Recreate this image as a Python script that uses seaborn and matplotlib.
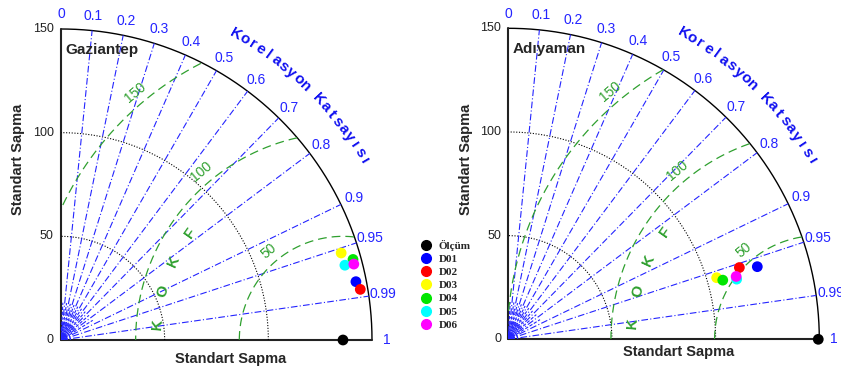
import numpy as np
import pandas as pd
import matplotlib
matplotlib.use('Agg')
import matplotlib.pyplot as plt
import seaborn as sns
from matplotlib.lines import Line2D

# values
stations = ['Gaziantep', 'Adıyaman']
ref_std = [136.0, 149.5]
models = ['D01', 'D02', 'D03', 'D04', 'D05', 'D06']
model_colors = ['#0000ff', '#ff0000', '#ffff00', '#00e600', '#00ffff', '#ff00ff']

gaz_std = [145.0, 146.4, 141.5, 146.1, 141.6, 145.9]
gaz_corr = [0.981, 0.986, 0.955, 0.964, 0.967, 0.968]
adi_std = [125.1, 116.7, 104.8, 107.3, 113.9, 114.0]
adi_corr = [0.960, 0.955, 0.959, 0.964, 0.967, 0.964]

corr_ticks = [0, 0.1, 0.2, 0.3, 0.4, 0.5, 0.6, 0.7, 0.8, 0.9, 0.95, 0.99, 1]
std_ticks = [0, 50, 100, 150]
rms_levels = [50, 100, 150]
std_max = 150

sns.set_style('white')
plt.rcParams['font.family'] = ['Liberation Sans', 'DejaVu Sans']

BLUE = '#2424ff'
GREEN = '#2fa02f'


def draw_taylor(ax, name, ref, std, corr, xlab_y):
    ax.set_xlim(0, std_max)
    ax.set_ylim(0, std_max)
    ax.set_aspect('equal')
    ax.axis('off')

    th = np.linspace(0, np.pi / 2, 300)
    # outer arc and axes
    ax.plot(std_max * np.cos(th), std_max * np.sin(th), color='black', lw=1.0, clip_on=False)
    ax.plot([0, 0], [0, std_max], color='#222222', lw=1.5, clip_on=False)
    ax.plot([0, std_max], [0, 0], color='#222222', lw=1.5, clip_on=False)

    # std circles (dotted)
    for s in std_ticks[1:-1]:
        ax.plot(s * np.cos(th), s * np.sin(th), color='black', lw=0.8, ls=(0, (1, 1.5)))
    for s in std_ticks:
        ax.text(-3.5, s, str(s), ha='right', va='center', fontsize=9, color='#222222')

    # correlation lines
    for c in corr_ticks:
        a = np.arccos(c)
        if 0 < c < 1:
            ax.plot([0, std_max * np.cos(a)], [0, std_max * np.sin(a)], color=BLUE,
                    lw=0.8, dashes=(6, 2, 1, 2))
        ax.text(157 * np.cos(a), 157 * np.sin(a), f'{c:g}', ha='center', va='center',
                fontsize=10, color=BLUE, clip_on=False)
    # short minor lines near origin
    for c in np.arange(0.05, 0.9, 0.1):
        a = np.arccos(c)
        ax.plot([0, 18 * np.cos(a)], [0, 18 * np.sin(a)], color=BLUE, lw=0.8, dashes=(3, 1.5))
    for r in [1.5, 3, 4.5]:
        ax.plot(r * np.cos(th), r * np.sin(th), color=BLUE, lw=0.9)

    # RMS difference circles around the reference
    phi = np.linspace(0, np.pi, 600)
    for r in rms_levels:
        x = ref + r * np.cos(phi)
        y = r * np.sin(phi)
        mask = (x ** 2 + y ** 2 > std_max ** 2) | (x < 0)
        x[mask] = np.nan
        y[mask] = np.nan
        ax.plot(x, y, color=GREEN, lw=0.9, dashes=(7, 4))
        la = np.deg2rad(130)
        ax.text(ref + (r + 6) * np.cos(la), (r + 6) * np.sin(la), str(r), color=GREEN,
                fontsize=10, rotation=40, ha='center', va='center')
    for ch, deg in zip('KOKF', [175, 165, 155, 145]):
        a = np.deg2rad(deg)
        ax.text(ref + 90 * np.cos(a), 90 * np.sin(a), ch, color=GREEN, fontsize=11,
                fontweight='bold', rotation=deg - 90, ha='center', va='center')

    # curved axis title
    title = 'Korelasyon Katsayısı'
    angs = np.linspace(60.2, 30.5, len(title))
    for ch, deg in zip(title, angs):
        a = np.deg2rad(deg)
        ax.text(170 * np.cos(a), 170 * np.sin(a), ch, color='#1010f0', fontsize=11,
                fontweight='bold', rotation=deg - 90, ha='center', va='center', clip_on=False)

    ax.text(2, 140, name, fontsize=11, fontweight='bold', ha='left', va='center')
    ax.text(82, xlab_y, 'Standart Sapma', fontsize=10.5, fontweight='bold',
            ha='center', va='center', clip_on=False)
    ax.text(-20.5, 87, 'Standart Sapma', fontsize=10.5, fontweight='bold', rotation=90,
            ha='center', va='center', clip_on=False)

    # points
    df = pd.DataFrame({'model': models, 'std': std, 'corr': corr})
    df['x'] = df['std'] * df['corr']
    df['y'] = df['std'] * np.sin(np.arccos(df['corr']))
    obs = pd.DataFrame({'x': [ref], 'y': [0.0]})
    sns.scatterplot(data=obs, x='x', y='y', color='black', s=60, edgecolor='none',
                    ax=ax, clip_on=False, zorder=5)
    sns.scatterplot(data=df, x='x', y='y', hue='model', palette=model_colors, s=60,
                    edgecolor='none', ax=ax, legend=False, clip_on=False, zorder=5)


fig = plt.figure(figsize=(8.41, 3.68), dpi=100)
ax1 = fig.add_axes([61 / 841, 28 / 368, 311 / 841, 311 / 368])
ax2 = fig.add_axes([508.3 / 841, 28.7 / 368, 311 / 841, 311 / 368])
draw_taylor(ax1, stations[0], ref_std[0], gaz_std, gaz_corr, -9)
draw_taylor(ax2, stations[1], ref_std[1], adi_std, adi_corr, -6.2)

handles = [Line2D([], [], marker='o', ls='none', color=c, markersize=7)
           for c in ['black'] + model_colors]
fig.legend(handles, ['Ölçüm'] + models, loc='center left', bbox_to_anchor=(415 / 841, 0.226),
           frameon=False, borderpad=0, handlelength=1, handletextpad=0.6, labelspacing=0.3,
           prop={'family': 'Liberation Serif', 'weight': 'bold', 'size': 8})

fig.savefig('out.png', dpi=100)
